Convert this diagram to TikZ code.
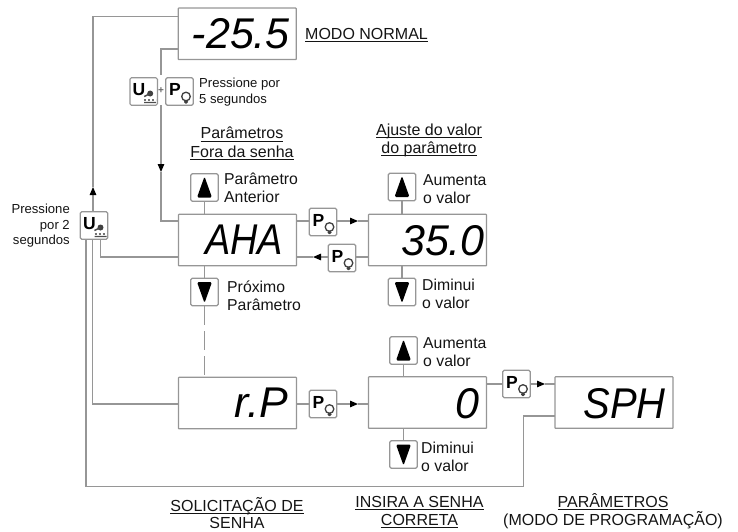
\documentclass[tikz,border=0pt]{standalone}
\usepackage{fontspec}
\setmainfont{Liberation Sans}
\usetikzlibrary{arrows.meta}
\definecolor{ln}{HTML}{969696}
\definecolor{tx}{HTML}{141414}
\newcommand{\ulin}[1]{\setbox0\hbox{#1}\rlap{\rule[-2.6pt]{\wd0}{1pt}}\box0}
\tikzset{
  conn/.style={draw=ln,line width=1.1pt},
  tip/.style={conn,-{Triangle[length=8pt,width=6.5pt,color=black]}},
  disp/.style={draw=ln,line width=1.2pt,fill=white,minimum width=118pt,minimum height=51.5pt,inner sep=0pt,rounded corners=.6pt},
  seg/.style={font=\fontsize{43}{43}\selectfont\itshape,text=black,inner sep=0pt,anchor=east},
  btn/.style={draw=ln,line width=1.1pt,fill=white,minimum width=27.5pt,minimum height=27.5pt,inner sep=0pt,rounded corners=1.5pt,font=\fontsize{17.5}{17.5}\selectfont\bfseries,text=black},
  upb/.style={btn,path picture={\fill[black] (path picture bounding box.center) ++(0,-11) -- ++(7.5,21) -- ++(-15,0) -- cycle;}},
  dnb/.style={btn,path picture={\fill[black] (path picture bounding box.center) ++(0,11) -- ++(7.5,-21) -- ++(-15,0) -- cycle;}},
  pb/.style={btn,path picture={\draw[black!75,line width=1.3pt] (path picture bounding box.center) ++(6.5,5) circle (4.3);\fill[black!75] (path picture bounding box.center) ++(4.5,8.5) rectangle ++(4,3.5);}},
  ub/.style={btn,path picture={\fill[black!75] (path picture bounding box.center) ++(6.5,2) circle (3);\draw[black!70,line width=1.4pt] (path picture bounding box.center) ++(0.5,5) -- ++(6,-3) (path picture bounding box.center) ++(0.5,11) -- ++(12,0);\draw[black!55,line width=2pt,dotted] (path picture bounding box.center) ++(0.5,8) -- ++(12,0);}},
  lab/.style={font=\fontsize{13.1}{15.6}\selectfont,text=tx,inner sep=0pt,align=left,anchor=west},
  lbb/.style={font=\fontsize{15.8}{17.8}\selectfont,text=tx,inner sep=0pt,align=left,anchor=west},
  hd/.style={font=\fontsize{16}{18.2}\selectfont,text=tx,inner sep=0pt,align=center}
}
\newcommand{\plet}{\makebox[21pt][l]{\raisebox{3.5pt}{P}}}
\newcommand{\ulet}{\makebox[22pt][l]{\raisebox{3.5pt}{U}}}
\begin{document}
\begin{tikzpicture}[x=1pt,y=-1pt]
\useasboundingbox (0,0) rectangle (738,531);
% connector coordinates
\coordinate (tl1) at (178.5,16.5);
\coordinate (tl2) at (178.5,49);
\coordinate (upm) at (93,187);
\coordinate (upk) at (93,16.5);
\coordinate (dn0) at (161,49);
\coordinate (dn1) at (161,75);
\coordinate (dn2) at (161,105);
\coordinate (dn3) at (161,172);
\coordinate (dn4) at (161,221);
\coordinate (al1) at (179,221);
\coordinate (al2) at (179,257);
\coordinate (rl1) at (179,404);
\coordinate (sl1) at (555,416);
\coordinate (sl2) at (555,384);
\coordinate (ubk) at (100.5,257);
\coordinate (ub2) at (86,486.7);
\coordinate (ub3) at (523.3,486.7);
\coordinate (ub4) at (523.3,416);
\coordinate (ub5) at (92.7,404);
\coordinate (ar1) at (358,221);
\coordinate (ar2) at (313,257);
\coordinate (ar3) at (358,404);
\coordinate (ar4) at (545,384);
\coordinate (vl1) at (369,221);
\coordinate (vl2) at (369,257);
\coordinate (zl1) at (369,404);
\coordinate (zl2) at (486,384);
\coordinate (al3) at (296,221);
\coordinate (al4) at (296,257);
\coordinate (rl2) at (296,404);
% displays
\node[disp] (top) at (237.2,33.8) {};
\node[disp] (aha) at (237.5,240) {};
\node[disp] (val) at (427.5,240) {};
\node[disp] (rp)  at (237.5,403) {};
\node[disp] (zer) at (427.5,402.5) {};
\node[disp] (sph) at (614,402.5) {};
% buttons
\node[ub] (ul)  at (94,225.5) {\ulet};
\node[ub] (ut)  at (143.7,91.5) {\ulet};
\node[pb] (pt)  at (179.5,91.5) {\plet};
\node[upb] (au) at (204.5,187.5) {};
\node[dnb] (ad) at (204.5,292) {};
\node[pb] (p1)  at (323,222) {\plet};
\node[pb] (p2)  at (342,258) {\plet};
\node[upb] (vu) at (402,187) {};
\node[dnb] (vd) at (402,292) {};
\node[pb] (p3)  at (323,404) {\plet};
\node[upb] (zu) at (403.5,350.5) {};
\node[dnb] (zd) at (403.5,454.5) {};
\node[pb] (p4)  at (516.5,384) {\plet};
% connectors
\draw[tip] (ul.north -| upm) -- (upm);
\draw[conn] (upm) -- (upk) -- (tl1);
\draw[conn] (tl2) -- (dn0) -- (dn1);
\draw[tip] (dn2) -- (dn3);
\draw[conn] (dn3) -- (dn4) -- (al1);
\draw[conn] (ul.south -| ubk) -- (ubk) -- (al2);
\draw[conn] (ul.south -| ub5) -- (ub5) -- (rl1);
\draw[conn] (ul.south -| ub2) -- (ub2) -- (ub3) -- (ub4) -- (sl1);
\draw[conn] (au.south) -- (aha.north -| au);
\draw[conn] (aha.south -| ad) -- (ad.north);
\draw[conn,dash pattern=on 19pt off 6pt] (ad.south) -- (rp.north -| ad);
\draw[conn] (al3) -- (p1.west |- al3);
\draw[tip] (p1.east |- ar1) -- (ar1);
\draw[conn] (ar1) -- (vl1);
\draw[conn] (vl2) -- (p2.east |- vl2);
\draw[tip] (p2.west |- ar2) -- (ar2);
\draw[conn] (ar2) -- (al4);
\draw[conn] (vu.south) -- (val.north -| vu);
\draw[conn] (val.south -| vd) -- (vd.north);
\draw[conn] (rl2) -- (p3.west |- rl2);
\draw[tip] (p3.east |- ar3) -- (ar3);
\draw[conn] (ar3) -- (zl1);
\draw[conn] (zu.south) -- (zer.north -| zu);
\draw[conn] (zer.south -| zd) -- (zd.north);
\draw[conn] (zl2) -- (p4.west);
\draw[tip] (p4.east) -- (ar4);
\draw[conn] (ar4) -- (sl2);
% plus sign
\node[inner sep=0pt,text=black!60,font=\fontsize{10}{10}\selectfont\bfseries] (plus) at (161,91) {+};
% display readouts
\node[seg] (t1) at (290,34) {-25.5};
\node[seg,xscale=.88] (t2) at (283,240) {AHA};
\node[seg] (t3) at (485,241) {35.0};
\node[seg] (t4) at (288,403) {r.P};
\node[seg] (t5) at (480,403.5) {0};
\node[seg,xscale=.93] (t6) at (666,403.5) {SPH};
% labels
\node[hd,anchor=west] (m1) at (305,35) {\ulin{MODO NORMAL}};
\node[lab] (l1) at (199,92) {Pressione por\\5 segundos};
\node[hd] (h1) at (242,143.5) {\ulin{Parâmetros}\\\ulin{Fora da senha}};
\node[hd] (h2) at (429,140.5) {\ulin{Ajuste do valor}\\\ulin{do parâmetro}};
\node[lbb] (l2) at (224,188) {Parâmetro\\Anterior};
\node[lbb] (l3) at (423,189.5) {Aumenta\\o valor};
\node[lab,align=right,anchor=east] (l4) at (70,226) {Pressione\\por 2\\segundos};
\node[lbb] (l5) at (227,296) {Próximo\\Parâmetro};
\node[lbb] (l6) at (422,294) {Diminui\\o valor};
\node[lbb] (l7) at (423,352) {Aumenta\\o valor};
\node[lbb] (l8) at (421,456.5) {Diminui\\o valor};
\node[hd,font=\fontsize{16}{16.6}\selectfont] (h3) at (237,513) {\ulin{SOLICITAÇÃO DE}\\SENHA};
\node[hd] (h4) at (419.5,512) {\ulin{INSIRA A SENHA}\\\ulin{CORRETA}};
\node[hd] (h5) at (613,511) {\ulin{PARÂMETROS}\\(MODO DE PROGRAMAÇÃO)};
\end{tikzpicture}
\end{document}
